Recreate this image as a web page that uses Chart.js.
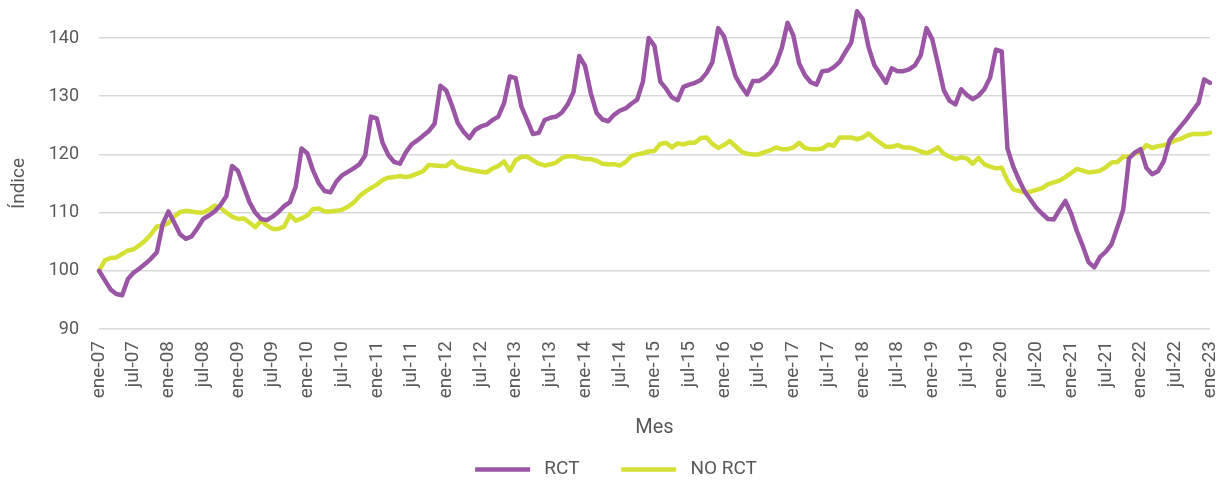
<!DOCTYPE html>
<html>
<head>
<meta charset="utf-8">
<script src="https://cdn.jsdelivr.net/npm/chart.js@4.4.1/dist/chart.umd.min.js"></script>
<style>
  html, body { margin: 0; padding: 0; background: #fff; }
  #wrap { width: 1219px; height: 481px; }
</style>
</head>
<body>
<div id="wrap"><canvas id="chart" width="1219" height="481"></canvas></div>
<script>
// Meses (ene-07 ... ene-23)
var monthNames = ['ene', 'feb', 'mar', 'abr', 'may', 'jun', 'jul', 'ago', 'sep', 'oct', 'nov', 'dic'];
var years = ['07', '08', '09', '10', '11', '12', '13', '14', '15', '16', '17', '18', '19', '20', '21', '22', '23'];
var labels = [];
years.forEach(function (yy, k) {
   monthNames.forEach(function (mm) {
      if (k < years.length - 1 || mm === 'ene') labels.push(mm + '-' + yy);
   });
});

// Índice RCT
var rct = [
   100.0, 98.4, 96.8, 96.0, 95.8, 98.6, 99.7, 100.4, 101.2, 102.1, 103.2, 108.0,
   110.2, 108.3, 106.3, 105.5, 105.9, 107.3, 108.9, 109.5, 110.2, 111.3, 112.8, 118.0,
   117.2, 114.5, 111.8, 110.0, 108.9, 108.7, 109.3, 110.1, 111.1, 111.8, 114.5, 121.0,
   120.2, 117.2, 115.0, 113.7, 113.5, 115.3, 116.4, 117.0, 117.6, 118.3, 119.8, 126.5,
   126.2, 122.0, 119.9, 118.7, 118.4, 120.3, 121.7, 122.4, 123.2, 124.0, 125.3, 131.8,
   131.0, 128.4, 125.4, 123.9, 122.8, 124.2, 124.8, 125.1, 125.9, 126.5, 128.8, 133.4,
   133.1, 128.2, 125.9, 123.5, 123.7, 125.9, 126.3, 126.5, 127.2, 128.6, 130.7, 136.9,
   135.2, 130.5, 127.1, 126.0, 125.7, 126.8, 127.5, 127.9, 128.7, 129.4, 132.5, 140.0,
   138.6, 132.5, 131.3, 129.8, 129.3, 131.6, 132.0, 132.3, 132.8, 134.0, 135.8, 141.7,
   140.3, 136.9, 133.4, 131.7, 130.3, 132.6, 132.6, 133.2, 134.1, 135.5, 138.3, 142.6,
   140.4, 135.6, 133.6, 132.4, 132.0, 134.3, 134.4, 135.0, 135.9, 137.6, 139.2, 144.6,
   143.2, 138.4, 135.3, 133.8, 132.3, 134.8, 134.3, 134.3, 134.6, 135.3, 137.0, 141.7,
   139.8, 135.5, 131.0, 129.2, 128.6, 131.2, 130.2, 129.5, 130.1, 131.2, 133.2, 138.0,
   137.7, 121.0, 117.9, 115.6, 113.6, 112.2, 110.8, 109.8, 108.9, 108.8, 110.5, 112.0,
   109.8, 106.8, 104.3, 101.5, 100.6, 102.4, 103.3, 104.6, 107.5, 110.5, 119.3, 120.3,
   120.9, 117.7, 116.6, 117.1, 118.8, 122.4, 123.7, 124.9, 126.1, 127.5, 128.8, 132.9,
   132.3
];

// Índice NO RCT
var noRct = [
   100.0, 101.8, 102.2, 102.3, 102.9, 103.5, 103.7, 104.4, 105.2, 106.3, 107.6, 107.8,
   108.2, 109.3, 110.1, 110.3, 110.2, 110.0, 110.0, 110.5, 111.2, 110.8, 110.0, 109.3,
   108.9, 109.0, 108.3, 107.5, 108.6, 107.8, 107.2, 107.2, 107.6, 109.6, 108.6, 109.0,
   109.5, 110.6, 110.7, 110.2, 110.2, 110.3, 110.5, 111.0, 111.7, 112.8, 113.6, 114.2,
   114.8, 115.6, 116.0, 116.1, 116.3, 116.1, 116.3, 116.7, 117.1, 118.2, 118.1, 118.0,
   118.0, 118.8, 117.9, 117.6, 117.4, 117.2, 117.0, 116.9, 117.6, 118.0, 118.8, 117.2,
   119.0, 119.6, 119.6, 119.0, 118.4, 118.1, 118.3, 118.6, 119.4, 119.7, 119.7, 119.4,
   119.2, 119.2, 118.9, 118.4, 118.3, 118.3, 118.1, 118.7, 119.7, 120.0, 120.2, 120.5,
   120.6, 121.8, 122.0, 121.2, 121.9, 121.7, 122.0, 122.0, 122.8, 122.9, 121.8, 121.1,
   121.6, 122.3, 121.4, 120.5, 120.1, 120.0, 120.0, 120.4, 120.7, 121.2, 120.9, 120.9,
   121.2, 122.0, 121.1, 120.9, 120.9, 121.0, 121.7, 121.5, 122.9, 122.9, 122.9, 122.6,
   122.9, 123.6, 122.7, 122.0, 121.3, 121.3, 121.6, 121.2, 121.2, 120.9, 120.5, 120.2,
   120.6, 121.2, 120.1, 119.6, 119.2, 119.5, 119.3, 118.4, 119.4, 118.3, 117.9, 117.6,
   117.7, 115.5, 114.0, 113.7, 113.5, 113.6, 113.9, 114.2, 114.9, 115.2, 115.5, 116.1,
   116.8, 117.5, 117.2, 116.9, 117.0, 117.2, 117.8, 118.6, 118.7, 119.6, 119.6, 120.1,
   120.5, 121.6, 121.1, 121.4, 121.6, 121.9, 122.4, 122.7, 123.2, 123.5, 123.5, 123.5,
   123.7
];

// Eje Y
var yMin = 90;
var yMax = 140;
var yStep = 10;

var textColor = '#595959';
var fontFamily = 'Roboto, "Noto Sans", sans-serif';

// nudge the legend row a little to the right, like the original
var legendShift = {
   id: 'legendShift',
   afterLayout: function (c) {
      if (c.legend) {
         c.legend.left += 11;
         c.legend.right += 11;
      }
   }
};

var ctx = document.getElementById('chart').getContext('2d');

var chart = new Chart(ctx, {
   type: 'line',
   data: {
      labels: labels,
      datasets: [{
         label: 'RCT',
         data: rct,
         borderColor: '#9a55a4',
         backgroundColor: '#9a55a4',
         borderWidth: 4.5,
         pointRadius: 0,
         tension: 0,
         clip: false,
         borderJoinStyle: 'round',
         borderCapStyle: 'round'
      },
      {
         label: 'NO RCT',
         data: noRct,
         borderColor: '#d5e034',
         backgroundColor: '#d5e034',
         borderWidth: 4.5,
         pointRadius: 0,
         tension: 0,
         clip: false,
         borderJoinStyle: 'round',
         borderCapStyle: 'round'
      }]
   },
   plugins: [legendShift],
   options: {
      responsive: false,
      animation: false,
      events: [],
      layout: {
         padding: { top: 38, right: 9, bottom: -8, left: 0 }
      },
      plugins: {
         tooltip: { enabled: false },
         legend: {
            position: 'bottom',
            labels: {
               usePointStyle: true,
               pointStyle: 'line',
               pointStyleWidth: 55,
               padding: 4,
               color: textColor,
               font: { family: fontFamily, size: 19 },
               generateLabels: function (c) {
                  var items = Chart.defaults.plugins.legend.labels.generateLabels(c);
                  // a bit more room around the entries
                  items[0].text = ' RCT        ';
                  items[1].text = ' NO RCT';
                  return items;
               }
            }
         }
      },
      scales: {
         x: {
            afterFit: function (scale) {
               scale.height = 127;
               scale.paddingLeft = 0;
               scale.paddingRight = 0;
            },
            grid: { display: false },
            border: { display: false },
            ticks: {
               autoSkip: false,
               maxRotation: 90,
               minRotation: 90,
               padding: 4,
               color: textColor,
               font: { family: fontFamily, size: 19 },
               callback: function (value, index) {
                  return index % 6 === 0 ? this.getLabelForValue(value) : '';
               }
            },
            title: {
               display: true,
               text: 'Mes',
               color: textColor,
               padding: { top: 4, bottom: 16 },
               font: { family: fontFamily, size: 20 }
            }
         },
         y: {
            min: yMin,
            max: yMax,
            afterFit: function (scale) { scale.width = 99; },
            grid: { color: '#d9d9d9', lineWidth: 1.5, drawTicks: false },
            border: { display: false },
            ticks: {
               stepSize: yStep,
               padding: 20,
               color: textColor,
               font: { family: fontFamily, size: 18 }
            },
            title: {
               display: true,
               text: 'Índice',
               color: textColor,
               padding: { top: 8, bottom: 4 },
               font: { family: fontFamily, size: 19 }
            }
         }
      }
   }
});
</script>
</body>
</html>
